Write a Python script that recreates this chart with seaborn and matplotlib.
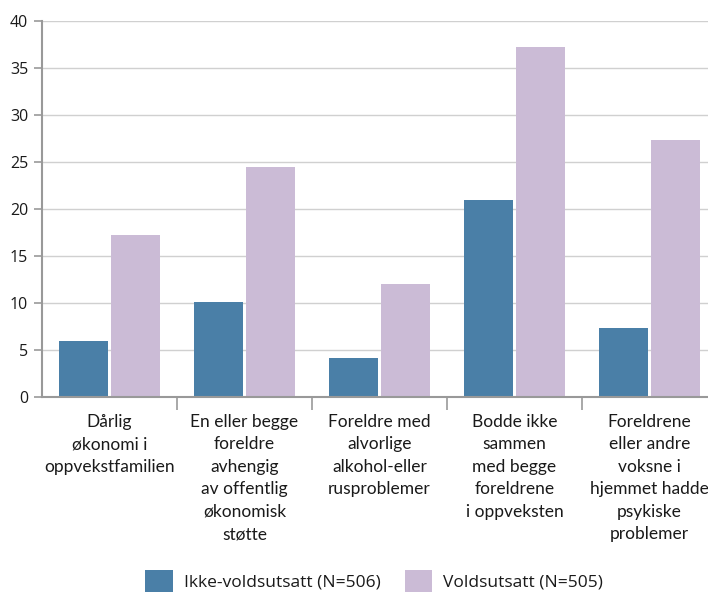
import matplotlib
matplotlib.use("Agg")
import matplotlib.pyplot as plt
import seaborn as sns
import pandas as pd
import numpy as np

categories = [
    "Dårlig\nøkonomi i\noppvekstfamilien",
    "En eller begge\nforeldre\navhengig\nav offentlig\nøkonomisk\nstøtte",
    "Foreldre med\nalvorlige\nalkohol-eller\nrusproblemer",
    "Bodde ikke\nsammen\nmed begge\nforeldrene\ni oppveksten",
    "Foreldrene\neller andre\nvoksne i\nhjemmet hadde\npsykiske\nproblemer",
]
series_names = ["Ikke-voldsutsatt (N=506)", "Voldsutsatt (N=505)"]
ikke_voldsutsatt = [6.0, 10.1, 4.2, 21.0, 7.3]
voldsutsatt = [17.2, 24.5, 12.0, 37.2, 27.3]
yticks = [0, 5, 10, 15, 20, 25, 30, 35, 40]
colors = ["#4a7fa7", "#cbbbd6"]

df = pd.DataFrame({
    "kategori": categories * 2,
    "gruppe": [series_names[0]] * 5 + [series_names[1]] * 5,
    "verdi": ikke_voldsutsatt + voldsutsatt,
})

sns.set_theme(style="white")
plt.rcParams["font.family"] = ["Open Sans", "DejaVu Sans"]

fig = plt.figure(figsize=(7.08, 5.95), dpi=100)
W, H = 708, 595
left, right, top, bottom = 42, 717, 21, 397
ax = fig.add_axes([left / W, (H - bottom) / H, (right - left) / W, (bottom - top) / H])

sns.barplot(data=df, x="kategori", y="verdi", hue="gruppe", palette=colors,
            width=0.76, gap=0.05, ax=ax, saturation=1, legend=True, linewidth=0)

ax.set_ylim(0, 40)
ax.set_xlim(-0.5, 4.5)
ax.set_yticks(yticks)
ax.set_yticklabels([str(v) for v in yticks], fontsize=11.5, color="#1a1a1a")
ax.yaxis.grid(True, color="#d0d0d0", linewidth=1)
ax.set_axisbelow(True)
ax.set_xlabel("")
ax.set_ylabel("")

for s in ["top", "right"]:
    ax.spines[s].set_visible(False)
ax.spines["left"].set_color("#999999")
ax.spines["left"].set_linewidth(1.5)
ax.spines["bottom"].set_color("#999999")
ax.spines["bottom"].set_linewidth(1.5)

ax.tick_params(axis="y", which="major", left=True, length=6, width=1.2, color="#999999", pad=4)
ax.set_xticks(range(5))
ax.set_xticklabels(categories, fontsize=12.5, linespacing=1.5,
                   family=["Lato", "DejaVu Sans"], color="#1a1a1a")
ax.tick_params(axis="x", which="major", length=0, pad=12)
ax.set_xticks([0.5, 1.5, 2.5, 3.5], minor=True)
ax.tick_params(axis="x", which="minor", length=9, width=1.2, color="#999999", bottom=True)

leg = ax.legend(loc="lower center", bbox_to_anchor=((374 - left) / (right - left), -0.56),
                ncol=2, frameon=False, fontsize=12.5, handlelength=1.6, handleheight=1.6,
                columnspacing=1.4, handletextpad=0.6)
for t in leg.get_texts():
    t.set_color("#1a1a1a")

fig.savefig("out.png", dpi=100)
